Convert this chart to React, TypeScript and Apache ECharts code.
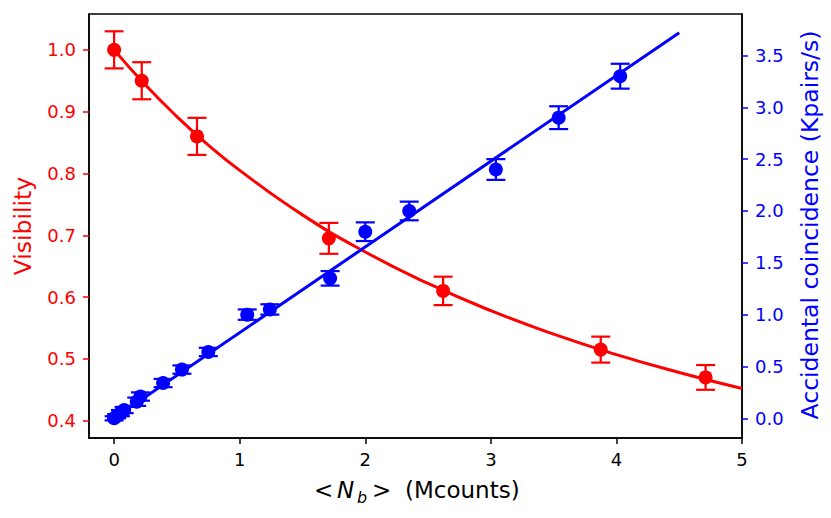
import React, { useEffect, useRef } from "react";
import * as echarts from "echarts";

// Visibility measurements (left axis)
const visX = [0, 0.22, 0.66, 1.71, 2.62, 3.875, 4.71];
const visibility = [1.0, 0.95, 0.86, 0.695, 0.61, 0.515, 0.47];
const visErr = [0.03, 0.03, 0.03, 0.025, 0.023, 0.021, 0.02];

// Visibility fit curve
const visFitX = [0, 0.25, 0.5, 0.75, 1, 1.5, 2, 2.5, 3, 3.5, 4, 4.5, 5];
const visFitY = [1.0, 0.943, 0.892, 0.846, 0.805, 0.733, 0.673, 0.622, 0.578, 0.54, 0.507, 0.478, 0.452];

// Accidental coincidences (right axis)
const accX = [0, 0.02, 0.05, 0.08, 0.18, 0.21, 0.39, 0.54, 0.75, 1.06, 1.24, 1.72, 2.0, 2.35, 3.04, 3.54, 4.03];
const accY = [0, 0.02, 0.05, 0.08, 0.16, 0.21, 0.34, 0.47, 0.64, 1.0, 1.05, 1.35, 1.8, 2.0, 2.4, 2.9, 3.3];
const accErr = [0.02, 0.02, 0.03, 0.03, 0.04, 0.04, 0.04, 0.04, 0.04, 0.05, 0.05, 0.07, 0.09, 0.09, 0.1, 0.11, 0.12];

// Linear fit
const accFitX = [0, 4.5];
const accFitY = [0, 3.72];

const xTicks = [0, 1, 2, 3, 4, 5];
const leftTicks = [0.4, 0.5, 0.6, 0.7, 0.8, 0.9, 1.0];
const rightTicks = [0, 0.5, 1, 1.5, 2, 2.5, 3, 3.5];

const RED = "#ff0000";
const BLUE = "#0000ff";
const FONT = "DejaVu Sans";

function errorBars(color: string) {
  return (params: any, api: any) => {
    const x = api.value(0);
    const y = api.value(1);
    const e = api.value(2);
    const top = api.coord([x, y + e]);
    const bot = api.coord([x, y - e]);
    const hw = 9.5;
    const style = { stroke: color, lineWidth: 2.2 };
    return {
      type: "group",
      children: [
        { type: "line", shape: { x1: top[0], y1: top[1], x2: bot[0], y2: bot[1] }, style },
        { type: "line", shape: { x1: top[0] - hw, y1: top[1], x2: top[0] + hw, y2: top[1] }, style },
        { type: "line", shape: { x1: bot[0] - hw, y1: bot[1], x2: bot[0] + hw, y2: bot[1] }, style },
      ],
    };
  };
}

export default function App() {
  const ref = useRef<HTMLDivElement>(null);
  useEffect(() => {
    if (!ref.current) return;
    const chart = echarts.init(ref.current, undefined, { renderer: "svg" });
    const tickStyle = (c: string) => ({ show: true, length: 6, inside: false, lineStyle: { color: c, width: 1.5 } });
    chart.setOption({
      animation: false,
      backgroundColor: "#ffffff",
      textStyle: { fontFamily: FONT },
      grid: {
        left: 89,
        right: 89,
        top: 14,
        bottom: 80,
        show: true,
        borderColor: "#000",
        borderWidth: 1.5,
        backgroundColor: "transparent",
      },
      xAxis: {
        type: "value",
        min: -0.2,
        max: 5,
        axisLine: { show: true, onZero: false, lineStyle: { color: "#000", width: 1.5 } },
        axisTick: { ...tickStyle("#000"), customValues: xTicks },
        axisLabel: {
          customValues: xTicks,
          color: "#000",
          fontSize: 18,
          fontFamily: FONT,
          margin: 12,
          formatter: (v: number) => String(v),
        },
        splitLine: { show: false },
      },
      yAxis: [
        {
          type: "value",
          position: "left",
          min: 0.372,
          max: 1.058,
          axisLine: { show: true, onZero: false, lineStyle: { color: "#000", width: 1.5 } },
          axisTick: { ...tickStyle(RED), customValues: leftTicks },
          axisLabel: {
            customValues: leftTicks,
            color: RED,
            fontSize: 18,
            fontFamily: FONT,
            margin: 13,
            formatter: (v: number) => v.toFixed(1),
          },
          splitLine: { show: false },
        },
        {
          type: "value",
          position: "right",
          min: -0.19,
          max: 3.9,
          axisLine: { show: true, onZero: false, lineStyle: { color: "#000", width: 1.5 } },
          axisTick: { ...tickStyle(BLUE), customValues: rightTicks },
          axisLabel: {
            customValues: rightTicks,
            color: BLUE,
            fontSize: 18,
            fontFamily: FONT,
            margin: 13,
            formatter: (v: number) => v.toFixed(1),
          },
          splitLine: { show: false },
        },
      ],
      series: [
        {
          type: "line",
          yAxisIndex: 0,
          data: visFitX.map((x, i) => [x, visFitY[i]]),
          smooth: true,
          showSymbol: false,
          lineStyle: { color: RED, width: 3 },
          itemStyle: { color: RED },
        },
        {
          type: "custom",
          yAxisIndex: 0,
          data: visX.map((x, i) => [x, visibility[i], visErr[i]]),
          renderItem: errorBars(RED),
        },
        {
          type: "scatter",
          yAxisIndex: 0,
          data: visX.map((x, i) => [x, visibility[i]]),
          symbol: "circle",
          symbolSize: 14,
          itemStyle: { color: RED, opacity: 1 },
        },
        {
          type: "line",
          yAxisIndex: 1,
          data: accFitX.map((x, i) => [x, accFitY[i]]),
          showSymbol: false,
          lineStyle: { color: BLUE, width: 3 },
          itemStyle: { color: BLUE },
        },
        {
          type: "custom",
          yAxisIndex: 1,
          data: accX.map((x, i) => [x, accY[i], accErr[i]]),
          renderItem: errorBars(BLUE),
        },
        {
          type: "scatter",
          yAxisIndex: 1,
          data: accX.map((x, i) => [x, accY[i]]),
          symbol: "circle",
          symbolSize: 14,
          itemStyle: { color: BLUE, opacity: 1 },
        },
      ],
      graphic: [
        {
          type: "text",
          x: 23,
          y: 226,
          rotation: Math.PI / 2,
          style: { text: "Visibility", fill: RED, font: `23.5px "${FONT}"`, align: "center", verticalAlign: "middle" },
        },
        {
          type: "text",
          x: 810,
          y: 225,
          rotation: Math.PI / 2,
          style: {
            text: "Accidental coincidence (Kpairs/s)",
            fill: BLUE,
            font: `23.5px "${FONT}"`,
            align: "center",
            verticalAlign: "middle",
          },
        },
        {
          type: "group",
          children: [
            { type: "text", x: 314, y: 490, style: { text: "<", fill: "#000", font: `23px "${FONT}"`, verticalAlign: "middle" } },
            { type: "text", x: 337, y: 490, style: { text: "N", fill: "#000", font: `italic 23px "${FONT}"`, verticalAlign: "middle" } },
            { type: "text", x: 357, y: 497, style: { text: "b", fill: "#000", font: `italic 16px "${FONT}"`, verticalAlign: "middle" } },
            { type: "text", x: 372, y: 490, style: { text: ">", fill: "#000", font: `23px "${FONT}"`, verticalAlign: "middle" } },
            { type: "text", x: 405, y: 490, style: { text: "(Mcounts)", fill: "#000", font: `23px "${FONT}"`, verticalAlign: "middle" } },
          ],
        },
      ],
    });
    return () => chart.dispose();
  }, []);
  return (
    <div
      ref={ref}
      style={{ position: "fixed", left: 0, top: 0, width: 831, height: 518, background: "#fff" }}
    />
  );
}
